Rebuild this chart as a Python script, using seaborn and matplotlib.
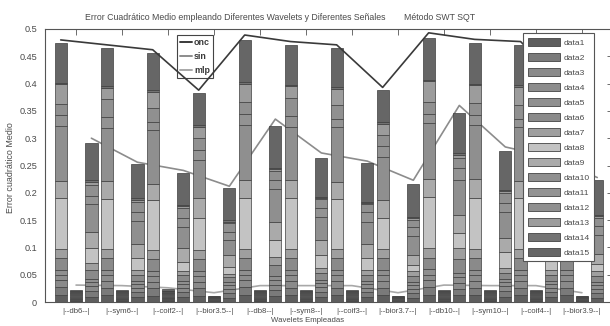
import matplotlib
matplotlib.use("Agg")
import matplotlib.pyplot as plt
from matplotlib.patches import Patch
from matplotlib.lines import Line2D
import seaborn as sns
import pandas as pd

# ---- data -------------------------------------------------------------
wavelets = ["db6", "sym6", "coif2", "bior3.5", "db8", "sym8",
            "coif3", "bior3.7", "db10", "sym10", "coif4", "bior3.9"]
series = [f"data{i}" for i in range(1, 16)]

# stacked components data1..data15 for every wavelet, one bar per method
onc_parts = [
    [0.012, 0.015, 0.013, 0.010, 0.009, 0.021, 0.017, 0.094, 0.031, 0.101, 0.019, 0.020, 0.037, 0.003, 0.072],
    [0.012, 0.014, 0.013, 0.010, 0.010, 0.021, 0.017, 0.092, 0.033, 0.097, 0.020, 0.033, 0.020, 0.003, 0.071],
    [0.011, 0.014, 0.012, 0.010, 0.010, 0.021, 0.017, 0.092, 0.030, 0.098, 0.015, 0.025, 0.030, 0.003, 0.068],
    [0.011, 0.014, 0.012, 0.010, 0.010, 0.021, 0.017, 0.058, 0.037, 0.070, 0.018, 0.022, 0.021, 0.003, 0.058],
    [0.012, 0.015, 0.013, 0.010, 0.009, 0.021, 0.017, 0.094, 0.032, 0.102, 0.020, 0.022, 0.033, 0.003, 0.077],
    [0.012, 0.014, 0.013, 0.010, 0.010, 0.021, 0.017, 0.093, 0.033, 0.098, 0.020, 0.032, 0.022, 0.003, 0.072],
    [0.012, 0.014, 0.013, 0.010, 0.010, 0.021, 0.017, 0.092, 0.031, 0.101, 0.015, 0.025, 0.030, 0.003, 0.072],
    [0.012, 0.014, 0.013, 0.010, 0.010, 0.021, 0.017, 0.057, 0.033, 0.079, 0.019, 0.021, 0.020, 0.003, 0.059],
    [0.012, 0.015, 0.013, 0.010, 0.010, 0.021, 0.017, 0.095, 0.033, 0.101, 0.017, 0.022, 0.038, 0.003, 0.077],
    [0.012, 0.014, 0.013, 0.010, 0.010, 0.021, 0.017, 0.094, 0.034, 0.099, 0.018, 0.022, 0.033, 0.003, 0.074],
    [0.012, 0.014, 0.013, 0.010, 0.010, 0.021, 0.017, 0.093, 0.031, 0.099, 0.016, 0.025, 0.033, 0.003, 0.074],
    [0.012, 0.014, 0.013, 0.010, 0.010, 0.021, 0.017, 0.056, 0.034, 0.076, 0.019, 0.021, 0.020, 0.003, 0.058],
]
mlp_parts = [
    [0.0025, 0.0015, 0.0012, 0.0010, 0.0010, 0.0015, 0.0012, 0.0018, 0.0015, 0.0015, 0.0012, 0.0012, 0.0010, 0.0015, 0.0019],
    [0.0025, 0.0015, 0.0012, 0.0010, 0.0010, 0.0015, 0.0012, 0.0018, 0.0015, 0.0015, 0.0012, 0.0012, 0.0010, 0.0015, 0.0019],
    [0.0026, 0.0016, 0.0013, 0.0011, 0.0010, 0.0016, 0.0013, 0.0019, 0.0016, 0.0016, 0.0013, 0.0013, 0.0011, 0.0016, 0.0024],
    [0.0013, 0.0008, 0.0006, 0.0005, 0.0005, 0.0008, 0.0006, 0.0009, 0.0008, 0.0008, 0.0006, 0.0006, 0.0005, 0.0008, 0.0008],
    [0.0025, 0.0015, 0.0012, 0.0010, 0.0010, 0.0015, 0.0012, 0.0018, 0.0015, 0.0015, 0.0012, 0.0012, 0.0010, 0.0015, 0.0024],
    [0.0025, 0.0015, 0.0012, 0.0010, 0.0010, 0.0015, 0.0012, 0.0018, 0.0015, 0.0015, 0.0012, 0.0012, 0.0010, 0.0015, 0.0019],
    [0.0025, 0.0015, 0.0012, 0.0010, 0.0010, 0.0015, 0.0012, 0.0018, 0.0015, 0.0015, 0.0012, 0.0012, 0.0010, 0.0015, 0.0024],
    [0.0013, 0.0008, 0.0006, 0.0005, 0.0005, 0.0008, 0.0006, 0.0009, 0.0008, 0.0008, 0.0006, 0.0006, 0.0005, 0.0008, 0.0009],
    [0.0025, 0.0015, 0.0012, 0.0010, 0.0010, 0.0015, 0.0012, 0.0018, 0.0015, 0.0015, 0.0012, 0.0012, 0.0010, 0.0015, 0.0024],
    [0.0025, 0.0015, 0.0012, 0.0010, 0.0010, 0.0015, 0.0012, 0.0018, 0.0015, 0.0015, 0.0012, 0.0012, 0.0010, 0.0015, 0.0019],
    [0.0025, 0.0015, 0.0012, 0.0010, 0.0010, 0.0015, 0.0012, 0.0018, 0.0015, 0.0015, 0.0012, 0.0012, 0.0010, 0.0015, 0.0019],
    [0.0013, 0.0008, 0.0006, 0.0005, 0.0005, 0.0008, 0.0006, 0.0009, 0.0008, 0.0008, 0.0006, 0.0006, 0.0005, 0.0008, 0.0008],
]
sin_parts = [
    [0.010, 0.010, 0.009, 0.008, 0.006, 0.016, 0.012, 0.027, 0.031, 0.050, 0.015, 0.020, 0.006, 0.003, 0.068],
    [0.009, 0.009, 0.008, 0.007, 0.006, 0.011, 0.009, 0.021, 0.027, 0.041, 0.017, 0.019, 0.003, 0.003, 0.063],
    [0.009, 0.009, 0.008, 0.007, 0.006, 0.010, 0.007, 0.018, 0.024, 0.040, 0.016, 0.018, 0.003, 0.003, 0.058],
    [0.008, 0.008, 0.008, 0.007, 0.005, 0.009, 0.007, 0.013, 0.021, 0.028, 0.015, 0.015, 0.003, 0.003, 0.058],
    [0.011, 0.011, 0.010, 0.009, 0.007, 0.019, 0.016, 0.031, 0.033, 0.060, 0.016, 0.017, 0.003, 0.002, 0.077],
    [0.010, 0.009, 0.009, 0.007, 0.006, 0.012, 0.009, 0.024, 0.028, 0.042, 0.016, 0.016, 0.003, 0.002, 0.071],
    [0.009, 0.009, 0.008, 0.007, 0.006, 0.011, 0.009, 0.021, 0.027, 0.040, 0.018, 0.014, 0.003, 0.002, 0.071],
    [0.008, 0.008, 0.008, 0.007, 0.005, 0.011, 0.009, 0.012, 0.018, 0.034, 0.018, 0.013, 0.003, 0.002, 0.061],
    [0.012, 0.012, 0.011, 0.010, 0.008, 0.025, 0.020, 0.028, 0.033, 0.064, 0.022, 0.018, 0.006, 0.003, 0.075],
    [0.010, 0.010, 0.009, 0.008, 0.006, 0.011, 0.008, 0.030, 0.025, 0.048, 0.016, 0.019, 0.003, 0.002, 0.072],
    [0.009, 0.009, 0.008, 0.007, 0.006, 0.011, 0.009, 0.022, 0.027, 0.041, 0.017, 0.016, 0.003, 0.002, 0.071],
    [0.008, 0.008, 0.008, 0.007, 0.005, 0.011, 0.009, 0.013, 0.018, 0.035, 0.018, 0.014, 0.003, 0.002, 0.064],
]

# error curves per method
onc_curve = [0.480, 0.471, 0.462, 0.388, 0.489, 0.477, 0.471, 0.393, 0.493, 0.481, 0.477, 0.390]
sin_curve = [0.300, 0.256, 0.241, 0.212, 0.335, 0.273, 0.258, 0.223, 0.360, 0.284, 0.265, 0.228]
mlp_curve = [0.031, 0.030, 0.026, 0.017, 0.030, 0.030, 0.030, 0.017, 0.031, 0.030, 0.030, 0.017]

y_ticks = [0, 0.05, 0.1, 0.15, 0.2, 0.25, 0.3, 0.35, 0.4, 0.45, 0.5]
y_tick_labels = ["0", "0.05", "0.1", "0.15", "0.2", "0.25", "0.3", "0.35", "0.4", "0.45", "0.5"]

series_grays = ["#5e5e5e", "#7a7a7a", "#8a8a8a", "#8d8d8d", "#8f8f8f",
                "#8a8a8a", "#9f9f9f", "#c3c3c3", "#aaaaaa", "#8f8f8f",
                "#939393", "#909090", "#9c9c9c", "#737373", "#666666"]

# ---- style ------------------------------------------------------------
sns.set_style("white")
plt.rcParams["font.family"] = ["Liberation Sans", "DejaVu Sans"]
TXT = "#4a4a4a"

# long table: one row per bar segment
rows = []
for g, w in enumerate(wavelets):
    for method, parts, offset in (("onc", onc_parts, 1), ("mlp", mlp_parts, 2), ("sin", sin_parts, 3)):
        for s, v in zip(series, parts[g]):
            rows.append({"pos": 3 * g + offset, "wavelet": w, "method": method, "series": s, "value": v})
segments = pd.DataFrame(rows)

curves = pd.DataFrame({
    "pos": [3 * g + o for o in (1, 3, 2) for g in range(len(wavelets))],
    "value": onc_curve + sin_curve + mlp_curve,
    "method": ["onc"] * 12 + ["sin"] * 12 + ["mlp"] * 12,
})

fig = plt.figure(figsize=(6.1, 3.26), dpi=100)
ax = fig.add_axes([45.4 / 610, 24 / 326, 567.2 / 610, 273 / 326])

# stacked bars, data1 at the bottom
bottoms = segments.groupby("pos")["value"].cumsum() - segments["value"]
for s, color in zip(series, series_grays):
    sel = segments["series"] == s
    ax.bar(segments.loc[sel, "pos"], segments.loc[sel, "value"], bottom=bottoms[sel],
           width=0.8, color=color, edgecolor="#3e3e3e", linewidth=0.5, zorder=3)

line_colors = {"onc": "#3a3a3a", "sin": "#8c8c8c", "mlp": "#a8a8a8"}
line_z = {"onc": 7, "sin": 2, "mlp": 2}
for m in ("onc", "sin", "mlp"):
    sns.lineplot(data=curves[curves["method"] == m], x="pos", y="value", ax=ax,
                 color=line_colors[m], linewidth=1.2, zorder=line_z[m], legend=False)

ax.set_xlim(0, 37)
ax.set_ylim(0, 0.5)
ax.set_xticks([3 * g + 2 for g in range(len(wavelets))])
ax.set_xticklabels([f"|--{w}--|" for w in wavelets], fontsize=5.6, color=TXT)
ax.set_yticks(y_ticks)
ax.set_yticklabels(y_tick_labels, fontsize=6.6, color=TXT)
ax.set_xlabel("")
ax.set_ylabel("")
ax.tick_params(direction="in", top=True, right=True, length=4, width=0.6,
               color="#555555")
ax.tick_params(axis="y", pad=6)
ax.tick_params(axis="x", pad=4)
for sp in ax.spines.values():
    sp.set_color("#555555")
    sp.set_linewidth(0.8)

# method legend
mhandles = [Line2D([], [], color=line_colors[m], lw=1.4) for m in ("onc", "sin", "mlp")]
leg2 = ax.legend(mhandles, ["onc", "sin", "mlp"], loc="upper left",
                 bbox_to_anchor=(177 / 610, 1 - 35 / 326), bbox_transform=fig.transFigure,
                 prop={"weight": "bold", "size": 6.4}, frameon=True, fancybox=False,
                 edgecolor="#444444", framealpha=1, borderaxespad=0, borderpad=0.35,
                 handlelength=1.3, handletextpad=0.25, labelspacing=0.55)
leg2.get_frame().set_linewidth(0.8)
for t in leg2.get_texts():
    t.set_color("#3a3a3a")
leg2.set_zorder(5)
ax.add_artist(leg2)

# component legend
shandles = [Patch(facecolor=c, edgecolor="#444444", linewidth=0.6) for c in series_grays]
leg1 = ax.legend(shandles, series, loc="upper left",
                 bbox_to_anchor=(523 / 610, 1 - 33 / 326), bbox_transform=fig.transFigure,
                 fontsize=6.1, frameon=True, fancybox=False, edgecolor="#555555",
                 framealpha=1, borderaxespad=0, borderpad=0.55,
                 handlelength=3.8, handleheight=1.15, handletextpad=0.4, labelspacing=0.7)
leg1.get_frame().set_linewidth(0.8)
for t in leg1.get_texts():
    t.set_color(TXT)
leg1.set_zorder(10)

fig.text(85 / 610, 1 - 17 / 326,
         "Error Cuadrático Medio empleando Diferentes Wavelets y Diferentes Señales",
         ha="left", va="center", fontsize=6.3, color=TXT)
fig.text(404 / 610, 1 - 17 / 326, "Método SWT SQT", ha="left", va="center",
         fontsize=6.3, color=TXT)
fig.text(11 / 610, 1 - 168 / 326, "Error cuadrático Medio", rotation=90,
         ha="center", va="center", fontsize=6.4, color=TXT)
fig.text(308 / 610, 1 - 320 / 326, "Wavelets Empleadas", ha="center", va="center",
         fontsize=5.6, color=TXT)

fig.savefig("out.png", dpi=100)
